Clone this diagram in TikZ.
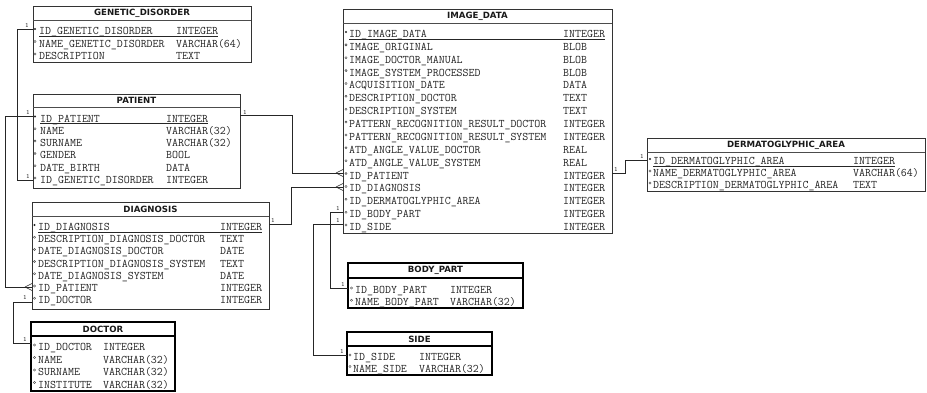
\documentclass[tikz,border=0pt]{standalone}
\usepackage{fontspec}
\newfontfamily\hdrfont{DejaVu Sans}
\begin{document}
\begin{tikzpicture}[x=1pt,y=-1pt,
  tbl/.style={draw=black!80, line width=0.8pt, anchor=north west, inner sep=0, outer sep=0},
  tblb/.style={draw=black, line width=1.6pt, anchor=north west, inner sep=0, outer sep=0},
  sepline/.style={draw=black!70, line width=0.9pt},
  hdr/.style={font=\hdrfont\bfseries\fontsize{8.6}{9}\selectfont, inner sep=0, text=black!90},
  rowtxt/.style={font=\ttfamily\fontsize{11.6}{12}\selectfont, inner sep=0, anchor=base west, text=black!85},
  conn/.style={draw=black!85, line width=0.7pt},
  one/.style={font=\sffamily\fontsize{6}{6}\selectfont, inner sep=0, text=black!85},
  pkmark/.style={fill=black!85},
  fkmark/.style={draw=black!75, line width=0.4pt}
]
\useasboundingbox (0,0) rectangle (927,392);
\fill[white] (0,0) rectangle (927,392);

% ---------------- GENETIC_DISORDER
\node[tbl, minimum width=218pt, minimum height=56pt] (gen) at (33,6) {};
\draw[sepline] (gen.west |- 0,20) -- (gen.east |- 0,20);
\node[hdr] (genh) at (142,13) {GENETIC\_DISORDER};
\foreach \i/\n/\t in {0/ID\_GENETIC\_DISORDER/INTEGER,1/NAME\_GENETIC\_DISORDER/VARCHAR(64),2/DESCRIPTION/TEXT}{
  \node[rowtxt] (gen-n\i) at (39,31+12.5*\i+3.5) {\n};
  \node[rowtxt] (gen-t\i) at (176,31+12.5*\i+3.5) {\t};
  \ifnum\i>0 \draw[fkmark] (35,31+12.5*\i-2) circle[radius=1.1pt];\fi
}
\fill[pkmark] (35,29) circle[radius=1.2pt];
\draw[black!85, line width=0.5pt] ([yshift=-1.6pt]gen-n0.base west) -- ([yshift=-1.6pt]gen-t0.base east);

% ---------------- PATIENT
\node[tbl, minimum width=207pt, minimum height=94pt] (pat) at (33,94) {};
\draw[sepline] (pat.west |- 0,107) -- (pat.east |- 0,107);
\node[hdr] (path) at (136.5,100.5) {PATIENT};
\foreach \i/\n/\t in {0/ID\_PATIENT/INTEGER,1/NAME/VARCHAR(32),2/SURNAME/VARCHAR(32),3/GENDER/BOOL,4/DATE\_BIRTH/DATA,5/ID\_GENETIC\_DISORDER/INTEGER}{
  \node[rowtxt] (pat-n\i) at (40,118.5+12.3*\i+3.5) {\n};
  \node[rowtxt] (pat-t\i) at (166,118.5+12.3*\i+3.5) {\t};
  \ifnum\i>0 \draw[fkmark] (35,118.5+12.3*\i-2) circle[radius=1.1pt];\fi
}
\fill[pkmark] (35,116.5) circle[radius=1.2pt];
\draw[black!85, line width=0.5pt] ([yshift=-1.6pt]pat-n0.base west) -- ([yshift=-1.6pt]pat-t0.base east);

% ---------------- DIAGNOSIS
\node[tbl, minimum width=237pt, minimum height=107pt] (diag) at (32,202) {};
\draw[sepline] (diag.west |- 0,216) -- (diag.east |- 0,216);
\node[hdr] (diagh) at (150.5,209) {DIAGNOSIS};
\foreach \i/\n/\t in {0/ID\_DIAGNOSIS/INTEGER,1/DESCRIPTION\_DIAGNOSIS\_DOCTOR/TEXT,2/DATE\_DIAGNOSIS\_DOCTOR/DATE,3/DESCRIPTION\_DIAGNOSIS\_SYSTEM/TEXT,4/DATE\_DIAGNOSIS\_SYSTEM/DATE,5/ID\_PATIENT/INTEGER,6/ID\_DOCTOR/INTEGER}{
  \node[rowtxt] (diag-n\i) at (38,227+12.2*\i+3.5) {\n};
  \node[rowtxt] (diag-t\i) at (220,227+12.2*\i+3.5) {\t};
  \ifnum\i>0 \draw[fkmark] (34.5,227+12.2*\i-2) circle[radius=1.1pt];\fi
}
\fill[pkmark] (34.5,225) circle[radius=1.2pt];
\draw[black!85, line width=0.5pt] ([yshift=-1.6pt]diag-n0.base west) -- ([yshift=-1.6pt]diag-t0.base east);

% ---------------- DOCTOR
\node[tblb, minimum width=144pt, minimum height=69pt] (doc) at (31,322) {};
\draw[black, line width=1.2pt] (doc.west |- 0,336) -- (doc.east |- 0,336);
\node[hdr] (doch) at (103,329) {DOCTOR};
\foreach \i/\n/\t in {0/ID\_DOCTOR/INTEGER,1/NAME/VARCHAR(32),2/SURNAME/VARCHAR(32),3/INSTITUTE/VARCHAR(32)}{
  \node[rowtxt] (doc-n\i) at (38,347+12.5*\i+3.5) {\n};
  \node[rowtxt] (doc-t\i) at (103,347+12.5*\i+3.5) {\t};
  \draw[fkmark] (34.5,347+12.5*\i-2) circle[radius=1.1pt];
}

% ---------------- IMAGE_DATA
\node[tbl, minimum width=269pt, minimum height=224pt] (img) at (343,9) {};
\draw[sepline] (img.west |- 0,23) -- (img.east |- 0,23);
\node[hdr] (imgh) at (477.5,16) {IMAGE\_DATA};
\foreach \i/\n/\t in {0/ID\_IMAGE\_DATA/INTEGER,1/IMAGE\_ORIGINAL/BLOB,2/IMAGE\_DOCTOR\_MANUAL/BLOB,3/IMAGE\_SYSTEM\_PROCESSED/BLOB,4/ACQUISITION\_DATE/DATA,5/DESCRIPTION\_DOCTOR/TEXT,6/DESCRIPTION\_SYSTEM/TEXT,7/PATTERN\_RECOGNITION\_RESULT\_DOCTOR/INTEGER,8/PATTERN\_RECOGNITION\_RESULT\_SYSTEM/INTEGER,9/ATD\_ANGLE\_VALUE\_DOCTOR/REAL,10/ATD\_ANGLE\_VALUE\_SYSTEM/REAL,11/ID\_PATIENT/INTEGER,12/ID\_DIAGNOSIS/INTEGER,13/ID\_DERMATOGLYPHIC\_AREA/INTEGER,14/ID\_BODY\_PART/INTEGER,15/ID\_SIDE/INTEGER}{
  \node[rowtxt] (img-n\i) at (349,34+12.87*\i+3.5) {\n};
  \node[rowtxt] (img-t\i) at (563,34+12.87*\i+3.5) {\t};
  \ifnum\i>0 \draw[fkmark] (346,34+12.87*\i-2) circle[radius=1.1pt];\fi
}
\fill[pkmark] (346,32) circle[radius=1.2pt];
\draw[black!85, line width=0.5pt] ([yshift=-1.6pt]img-n0.base west) -- ([yshift=-1.6pt]img-t0.base east);

% ---------------- DERMATOGLYPHIC_AREA
\node[tbl, minimum width=278pt, minimum height=53pt] (derm) at (647,138) {};
\draw[sepline] (derm.west |- 0,152) -- (derm.east |- 0,152);
\node[hdr] (dermh) at (786,145) {DERMATOGLYPHIC\_AREA};
\foreach \i/\n/\t in {0/ID\_DERMATOGLYPHIC\_AREA/INTEGER,1/NAME\_DERMATOGLYPHIC\_AREA/VARCHAR(64),2/DESCRIPTION\_DERMATOGLYPHIC\_AREA/TEXT}{
  \node[rowtxt] (derm-n\i) at (653,161+12*\i+3.5) {\n};
  \node[rowtxt] (derm-t\i) at (853,161+12*\i+3.5) {\t};
  \ifnum\i>0 \draw[fkmark] (650,161+12*\i-2) circle[radius=1.1pt];\fi
}
\fill[pkmark] (650,159) circle[radius=1.2pt];
\draw[black!85, line width=0.5pt] ([yshift=-1.6pt]derm-n0.base west) -- ([yshift=-1.6pt]derm-t0.base east);

% ---------------- BODY_PART
\node[tblb, minimum width=175pt, minimum height=45pt] (body) at (348,263) {};
\draw[black, line width=1.2pt] (body.west |- 0,278) -- (body.east |- 0,278);
\node[hdr] (bodyh) at (435.5,270.5) {BODY\_PART};
\foreach \i/\n/\t in {0/ID\_BODY\_PART/INTEGER,1/NAME\_BODY\_PART/VARCHAR(32)}{
  \node[rowtxt] (body-n\i) at (355,290+12.3*\i+3.5) {\n};
  \node[rowtxt] (body-t\i) at (450,290+12.3*\i+3.5) {\t};
  \draw[fkmark] (351.5,290+12.3*\i-2) circle[radius=1.1pt];
}

% ---------------- SIDE
\node[tblb, minimum width=145pt, minimum height=43pt] (side) at (347,332) {};
\draw[black, line width=1.2pt] (side.west |- 0,346) -- (side.east |- 0,346);
\node[hdr] (sideh) at (419.5,339) {SIDE};
\foreach \i/\n/\t in {0/ID\_SIDE/INTEGER,1/NAME\_SIDE/VARCHAR(32)}{
  \node[rowtxt] (side-n\i) at (353,357+11.5*\i+3.5) {\n};
  \node[rowtxt] (side-t\i) at (419,357+11.5*\i+3.5) {\t};
  \draw[fkmark] (350,357+11.5*\i-2) circle[radius=1.1pt];
}

% ---------------- connection points
\coordinate (genA) at (33,29);
\coordinate (patG) at (33,180);
\coordinate (patL) at (33,116);
\coordinate (diagP) at (32,287);
\coordinate (patR) at (240,115);
\coordinate (imgP) at (343,173);
\coordinate (diagR) at (269,224);
\coordinate (imgD) at (343,187);
\coordinate (imgR) at (612,173);
\coordinate (dermL) at (647,160);
\coordinate (imgB) at (343,212);
\coordinate (bodyL) at (348,288);
\coordinate (imgS) at (343,224);
\coordinate (sideL) at (347,355);
\coordinate (diagDoc) at (32,302);
\coordinate (docL) at (31,343);

% ---------------- connectors
\draw[conn] (genA) -- (17,29) |- (patG);
\draw[conn] (patL) -- (5,116) |- (diagP);
\draw[conn] (patR) -- (292,115) |- (imgP);
\draw[conn] (diagR) -- (291,224) |- (imgD);
\draw[conn] (imgR) -- (625,173) |- (dermL);
\draw[conn] (imgB) -- (330,212) |- (bodyL);
\draw[conn] (imgS) -- (313,224) |- (sideL);
\draw[conn] (diagDoc) -- (13,302) |- (docL);

% crow's feet (many side)
\foreach \c in {imgP,imgD,diagP}{
  \draw[conn, line width=0.6pt] ([xshift=-7pt]\c) -- ([yshift=3.5pt]\c)
        ([xshift=-7pt]\c) -- ([yshift=-3.5pt]\c);
}

% ---------------- cardinality labels
\node[one] (l1) at (27,25) {1};
\node[one] (l2) at (28,176) {1};
\node[one] (l3) at (28,112) {1};
\node[one] (l4) at (245,112) {1};
\node[one] (l5) at (273,220) {1};
\node[one] (l6) at (25,297.5) {1};
\node[one] (l7) at (25,339.5) {1};
\node[one] (l8) at (616,169.5) {1};
\node[one] (l9) at (642,156) {1};
\node[one] (l10) at (338,208) {1};
\node[one] (l11) at (338,220) {1};
\node[one] (l12) at (343,284.5) {1};
\node[one] (l13) at (342,351.5) {1};
\end{tikzpicture}
\end{document}
